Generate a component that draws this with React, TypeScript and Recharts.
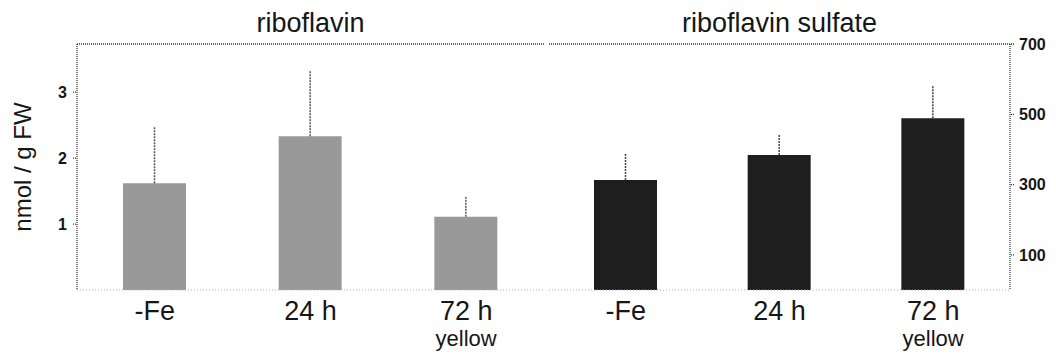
import { BarChart, Bar, XAxis, YAxis, ErrorBar, ReferenceLine, Label } from 'recharts';

// values
const categories = ['-Fe', '24 h', '72 h'];
const subLabels = ['', '', 'yellow'];
const riboflavin = [1.62, 2.33, 1.11];
const riboflavinErr = [0.85, 1.0, 0.3];
const sulfate = [313, 384, 489];
const sulfateErr = [74, 60, 91];
const leftTicks = [1, 2, 3];
const rightTicks = [100, 300, 500, 700];

const LEFT_MAX = 3.73;
const RIGHT_MAX = 700;

const leftData = categories.map((name, i) => ({
  name,
  value: riboflavin[i],
  err: [0, riboflavinErr[i]],
}));
const rightData = categories.map((name, i) => ({
  name,
  value: sulfate[i],
  err: [0, sulfateErr[i]],
}));

const FONT = '"Liberation Sans", Arial, sans-serif';
const INK = '#161616';
const dotted = { stroke: '#3a3a3a', strokeWidth: 1.3, strokeDasharray: '1 1' };
const faint = { stroke: '#b0b0b0', strokeWidth: 1.2, strokeDasharray: '1 2' };

function CatTick(props: any) {
  const { x, y, payload } = props;
  const sub = subLabels[categories.indexOf(payload.value)];
  return (
    <text x={x} y={y} textAnchor="middle" fill={INK} fontFamily={FONT}>
      <tspan x={x} dy={22} fontSize={27}>{payload.value}</tspan>
      {sub ? <tspan x={x} dy={26} fontSize={22}>{sub}</tspan> : null}
    </text>
  );
}

const yTick = { fill: INK, fontSize: 16, fontWeight: 700, fontFamily: FONT };

function YTitle(props: any) {
  const { viewBox } = props;
  const cx = 22;
  const cy = viewBox.y + viewBox.height / 2;
  return (
    <text
      x={cx}
      y={cy}
      transform={`rotate(-90 ${cx} ${cy})`}
      textAnchor="middle"
      dominantBaseline="central"
      fontSize={24}
      fill={INK}
      fontFamily={FONT}
    >
      nmol / g FW
    </text>
  );
}

export default function App() {
  return (
    <div style={{ position: 'absolute', left: 0, top: 0, width: 1056, height: 360, background: '#fff', fontFamily: FONT }}>
      <div style={{ position: 'absolute', left: 0, top: 0 }}>
        <BarChart width={560} height={360} data={leftData} margin={{ top: 44, right: 16, bottom: 0, left: 0 }}>
          <XAxis dataKey="name" xAxisId="b" height={70} axisLine={faint} tickLine={false} tick={<CatTick />} interval={0} />
          <YAxis
            yAxisId="l"
            width={77}
            domain={[0, LEFT_MAX]}
            ticks={leftTicks}
            allowDataOverflow
            axisLine={dotted}
            tickLine={dotted}
            tickSize={4}
            tickMargin={6}
            tick={yTick}
          >
            <Label content={<YTitle />} />
          </YAxis>
          <YAxis yAxisId="r" orientation="right" width={0} domain={[0, LEFT_MAX]} tick={false} tickLine={false} axisLine={faint} />
          <ReferenceLine xAxisId="b" yAxisId="l" y={LEFT_MAX} {...dotted} ifOverflow="visible">
            <Label value="riboflavin" position="top" offset={12} fontSize={27} fill={INK} fontFamily={FONT} />
          </ReferenceLine>
          <Bar xAxisId="b" yAxisId="l" dataKey="value" fill="#999999" barSize={63} isAnimationActive={false}>
            <ErrorBar dataKey="err" width={0} stroke="#555" strokeWidth={1.5} strokeDasharray="2 1" direction="y" />
          </Bar>
        </BarChart>
      </div>
      <div style={{ position: 'absolute', left: 545, top: 0 }}>
        <BarChart width={511} height={360} data={rightData} margin={{ top: 44, right: 0, bottom: 0, left: 4 }}>
          <XAxis dataKey="name" xAxisId="b" height={70} axisLine={faint} tickLine={false} tick={<CatTick />} interval={0} />
          <YAxis yAxisId="l" width={0} domain={[0, RIGHT_MAX]} tick={false} tickLine={false} axisLine={dotted} />
          <YAxis
            yAxisId="r"
            orientation="right"
            width={46}
            domain={[0, RIGHT_MAX]}
            ticks={rightTicks}
            axisLine={dotted}
            tickLine={dotted}
            tickSize={4}
            tickMargin={5}
            tick={yTick}
          />
          <ReferenceLine xAxisId="b" yAxisId="r" y={RIGHT_MAX} {...dotted} ifOverflow="visible">
            <Label value="riboflavin sulfate" position="top" offset={12} fontSize={27} fill={INK} fontFamily={FONT} />
          </ReferenceLine>
          <Bar xAxisId="b" yAxisId="r" dataKey="value" fill="#1e1e1e" barSize={63} isAnimationActive={false}>
            <ErrorBar dataKey="err" width={0} stroke="#444" strokeWidth={1.5} strokeDasharray="2 1" direction="y" />
          </Bar>
        </BarChart>
      </div>
    </div>
  );
}
